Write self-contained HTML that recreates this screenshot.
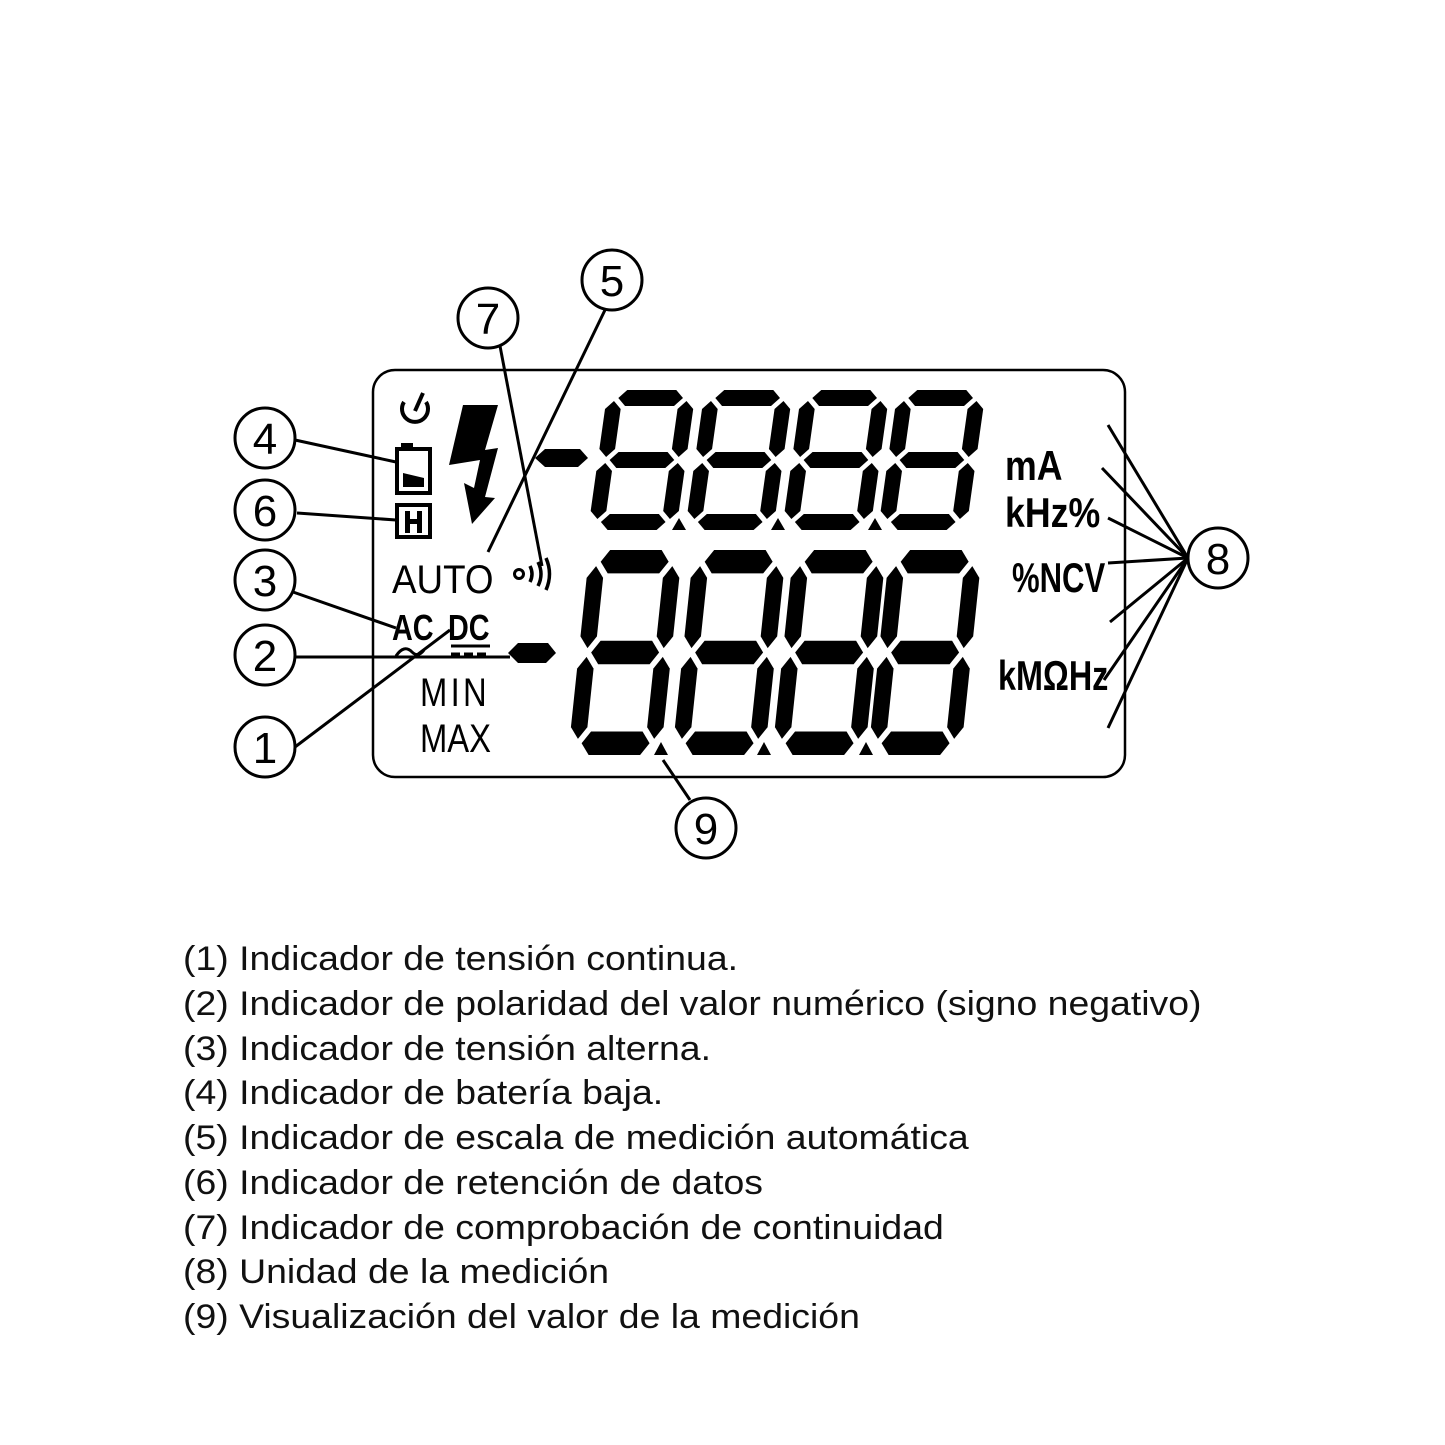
<!DOCTYPE html>
<html><head><meta charset="utf-8"><style>
html,body{margin:0;padding:0;background:#fff;}
svg{display:block}
.t{font-family:"Liberation Sans",sans-serif;}
</style></head><body>
<svg width="1445" height="1445" viewBox="0 0 1445 1445" xmlns="http://www.w3.org/2000/svg">
<defs>
<g id="dg" fill="#000">
<polygon points="12,8 20,0 70,0 78,8 70,16 20,16"/>
<polygon points="12,70 20,62 70,62 78,70 70,78 20,78"/>
<polygon points="12,132 20,124 70,124 78,132 70,140 20,140"/>
<polygon points="8,11 16,19 16,59 8,67 0,59 0,19"/>
<polygon points="82,11 90,19 90,59 82,67 74,59 74,19"/>
<polygon points="8,73 16,81 16,121 8,129 0,121 0,81"/>
<polygon points="82,73 90,81 90,121 82,129 74,121 74,81"/>
</g>
</defs>
<rect x="0" y="0" width="1445" height="1445" fill="#fff"/>
<rect x="373" y="370" width="752" height="407" rx="22" fill="none" stroke="#000" stroke-width="2.5"/>

<g transform="translate(588,530) skewX(-8) translate(0,-140) scale(0.98,1)"><use href="#dg"/></g>
<g transform="translate(685,530) skewX(-8) translate(0,-140) scale(0.98,1)"><use href="#dg"/></g>
<g transform="translate(782,530) skewX(-8) translate(0,-140) scale(0.98,1)"><use href="#dg"/></g>
<g transform="translate(878,530) skewX(-8) translate(0,-140) scale(0.98,1)"><use href="#dg"/></g>
<polygon points="535,458 545,449 580,449 588,458 578,467 545,467" fill="#000"/>
<polygon points="672,530 679,518 686,530" fill="#000"/>
<polygon points="771,530 778,518 785,530" fill="#000"/>
<polygon points="868,530 875,518 882,530" fill="#000"/>

<g transform="translate(568,755) skewX(-6) translate(0,-205) scale(1.03,1.464)"><use href="#dg"/></g>
<g transform="translate(672,755) skewX(-6) translate(0,-205) scale(1.03,1.464)"><use href="#dg"/></g>
<g transform="translate(772,755) skewX(-6) translate(0,-205) scale(1.03,1.464)"><use href="#dg"/></g>
<g transform="translate(868,755) skewX(-6) translate(0,-205) scale(1.03,1.464)"><use href="#dg"/></g>
<polygon points="508,653 518,643 548,643 556,653 546,663 518,663" fill="#000"/>
<polygon points="654,755 661,742 668,755" fill="#000"/>
<polygon points="757,755 764,742 771,755" fill="#000"/>
<polygon points="859,755 866,742 873,755" fill="#000"/>

<path d="M404,402 A13,13 0 1 0 426,402" fill="none" stroke="#000" stroke-width="4"/>
<line x1="415" y1="411" x2="423" y2="393" stroke="#000" stroke-width="4"/>
<rect x="401" y="443" width="12" height="6" fill="#000"/>
<rect x="397" y="449" width="33" height="44" fill="none" stroke="#000" stroke-width="4"/>
<polygon points="403,473 424,478 424,487 403,487" fill="#000"/>
<rect x="397" y="505" width="33" height="32" fill="none" stroke="#000" stroke-width="4"/>
<rect x="405" y="511" width="5" height="22" fill="#000"/><rect x="417" y="511" width="5" height="22" fill="#000"/><rect x="405" y="519" width="17" height="5" fill="#000"/>
<polygon points="463,405 498,405 485,450 498,448 485,497 495,498 472,524 464,483 474,488 480,460 449,465" fill="#000"/>
<text x="392" y="593" class="t" font-size="40" transform="translate(392,0) scale(0.92,1) translate(-392,0)">AUTO</text>
<circle cx="519" cy="574" r="4.5" fill="none" stroke="#000" stroke-width="3"/>
<path d="M530,566 Q534,574 530,582 M538,562 Q544,574 538,586 M546,558 Q553,574 546,590" fill="none" stroke="#000" stroke-width="3.5"/>
<text x="392" y="640" class="t" font-size="36" font-weight="bold" transform="translate(392,0) scale(0.8,1) translate(-392,0)">AC</text>
<text x="448" y="640" class="t" font-size="36" font-weight="bold" transform="translate(448,0) scale(0.8,1) translate(-448,0)">DC</text>
<path d="M396,656 Q404,644 412,652 Q418,658 424,650" fill="none" stroke="#000" stroke-width="3"/>
<line x1="451" y1="646" x2="490" y2="646" stroke="#000" stroke-width="3"/>
<line x1="451" y1="654" x2="490" y2="654" stroke="#000" stroke-width="3" stroke-dasharray="9,4"/>
<text x="420" y="706" class="t" font-size="40" transform="translate(420,0) scale(0.82,1) translate(-420,0)" letter-spacing="4">MIN</text>
<text x="420" y="752" class="t" font-size="40" transform="translate(420,0) scale(0.82,1) translate(-420,0)">MAX</text>

<g class="t" font-weight="bold" font-size="42">
<text x="1005" y="480" transform="translate(1005,0) scale(0.85,1) translate(-1005,0)">mA</text>
<text x="1005" y="527" transform="translate(1005,0) scale(0.85,1) translate(-1005,0)">kHz%</text>
<text x="1012" y="592" transform="translate(1012,0) scale(0.74,1) translate(-1012,0)">%NCV</text>
<text x="998" y="690" transform="translate(998,0) scale(0.77,1) translate(-998,0)">kMΩHz</text>
</g>

<g fill="none" stroke="#000" stroke-width="3">
<circle cx="265" cy="438" r="30"/><circle cx="265" cy="510" r="30"/><circle cx="265" cy="580" r="30"/>
<circle cx="265" cy="655" r="30"/><circle cx="265" cy="747" r="30"/><circle cx="488" cy="318" r="30"/>
<circle cx="612" cy="280" r="30"/><circle cx="1218" cy="558" r="30"/><circle cx="706" cy="828" r="30"/>
<line x1="295" y1="440" x2="396" y2="462"/>
<line x1="297" y1="513" x2="396" y2="520"/>
<line x1="293" y1="592" x2="396" y2="628"/>
<line x1="295" y1="657" x2="510" y2="657"/>
<line x1="295" y1="747" x2="450" y2="630"/>
<line x1="500" y1="346" x2="542" y2="566"/>
<line x1="605" y1="310" x2="488" y2="552"/>
<line x1="663" y1="760" x2="690" y2="800"/>
<line x1="1188" y1="558" x2="1108" y2="425"/>
<line x1="1188" y1="558" x2="1102" y2="468"/>
<line x1="1188" y1="558" x2="1108" y2="518"/>
<line x1="1188" y1="558" x2="1108" y2="563"/>
<line x1="1188" y1="558" x2="1110" y2="622"/>
<line x1="1188" y1="558" x2="1104" y2="680"/>
<line x1="1188" y1="558" x2="1108" y2="728"/>
</g>
<g class="t" font-size="44" text-anchor="middle">
<text x="265" y="454">4</text><text x="265" y="526">6</text><text x="265" y="596">3</text>
<text x="265" y="671">2</text><text x="265" y="763">1</text><text x="488" y="334">7</text>
<text x="612" y="296">5</text><text x="1218" y="574">8</text><text x="706" y="844">9</text>
</g>

<g class="t" font-size="34" fill="#111" transform="translate(183,0) scale(1.1,1) translate(-183,0)">
<text x="183" y="970">(1) Indicador de tensión continua.</text>
<text x="183" y="1015">(2) Indicador de polaridad del valor numérico (signo negativo)</text>
<text x="183" y="1060">(3) Indicador de tensión alterna.</text>
<text x="183" y="1104">(4) Indicador de batería baja.</text>
<text x="183" y="1149">(5) Indicador de escala de medición automática</text>
<text x="183" y="1194">(6) Indicador de retención de datos</text>
<text x="183" y="1239">(7) Indicador de comprobación de continuidad</text>
<text x="183" y="1283">(8) Unidad de la medición</text>
<text x="183" y="1328">(9) Visualización del valor de la medición</text>
</g>
</svg>
</body></html>
